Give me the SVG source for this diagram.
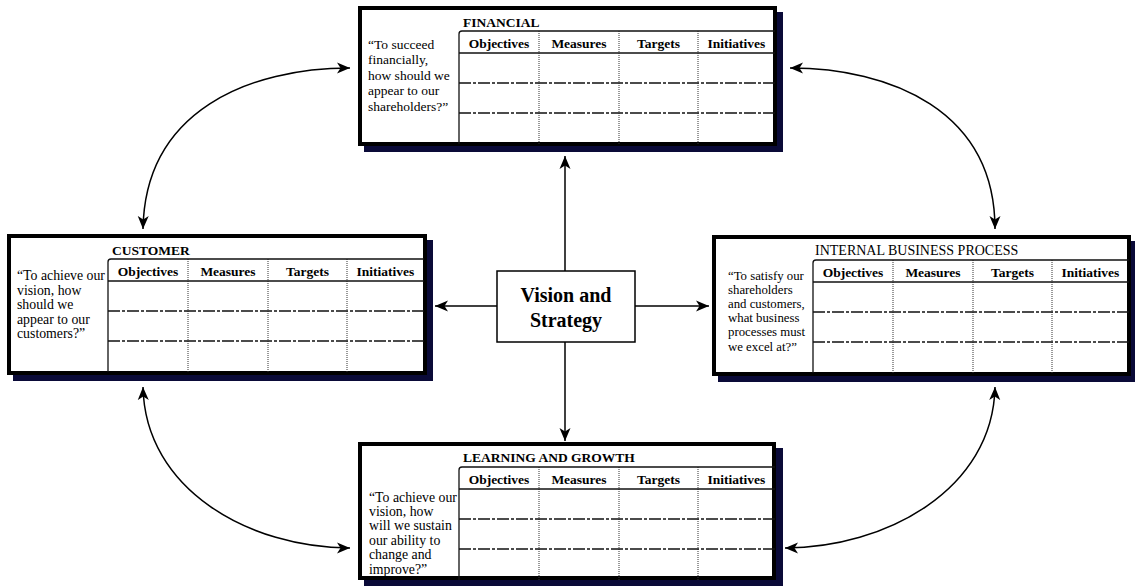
<svg xmlns="http://www.w3.org/2000/svg" width="1135" height="586" viewBox="0 0 1135 586">
<style>
.bg{fill:#fff}
.shadow{fill:#0a0a38}
.frame{fill:#fff;stroke:#000;stroke-width:4}
.tl{stroke:#111;stroke-width:1.3;fill:none}
.dash{stroke:#111;stroke-width:1.3;stroke-dasharray:12 2 3 2;fill:none}
.dot{stroke:#333;stroke-width:1;stroke-dasharray:1 1;fill:none}
.lbl{font-family:"Liberation Serif",serif;font-weight:bold;font-size:13.5px;fill:#000}
.lbln{font-family:"Liberation Serif",serif;font-size:14px;fill:#000}
.col{font-family:"Liberation Serif",serif;font-weight:bold;font-size:13.5px;text-anchor:middle;fill:#000}
.q{font-family:"Liberation Serif",serif;font-size:13.5px;fill:#000}
.qb{font-family:"Liberation Serif",serif;font-size:13.8px;fill:#000}
.qs{font-family:"Liberation Serif",serif;font-size:12.8px;fill:#000}
.vs{font-family:"Liberation Serif",serif;font-weight:bold;font-size:20px;text-anchor:middle;fill:#000}
.center{fill:#fff;stroke:#000;stroke-width:1.5}
.conn{fill:none;stroke:#000;stroke-width:1.5;marker-start:url(#ah);marker-end:url(#ah)}
.conn1{fill:none;stroke:#000;stroke-width:1.5;marker-end:url(#ah)}
</style>
<defs>
<marker id="ah" markerUnits="userSpaceOnUse" markerWidth="14" markerHeight="12" refX="13" refY="5.5" orient="auto-start-reverse" viewBox="0 0 14 11">
<path d="M0,0 L13,5.5 L0,11 L3.5,5.5 Z" fill="#000"/>
</marker>
<g id="table">
<line class="dot" x1="181" y1="25" x2="181" y2="138"/>
<line class="dot" x1="261" y1="25" x2="261" y2="138"/>
<line class="dot" x1="340" y1="25" x2="340" y2="138"/>
<path class="tl" d="M101,138 L101,28 Q101,25 104,25 L417,25"/>
<line class="tl" x1="101" y1="47" x2="417" y2="47"/>
<line class="dash" x1="101" y1="77" x2="417" y2="77"/>
<line class="dash" x1="101" y1="107" x2="417" y2="107"/>
<text class="col" x="141" y="42">Objectives</text>
<text class="col" x="221" y="42">Measures</text>
<text class="col" x="300.5" y="42">Targets</text>
<text class="col" x="378.5" y="42">Initiatives</text>
</g>
</defs>
<rect class="bg" x="0" y="0" width="1135" height="586"/>

<g id="connectors">
<line class="conn1" x1="565" y1="271" x2="565" y2="156"/>
<line class="conn1" x1="565" y1="342" x2="565" y2="441"/>
<line class="conn1" x1="497" y1="306" x2="435" y2="306"/>
<line class="conn1" x1="635" y1="306" x2="709" y2="306"/>
<path class="conn" d="M143,229 C145,110 250,68 350,68"/>
<path class="conn" d="M790,68 C890,68 995,110 995,229"/>
<path class="conn" d="M143,387 C145,490 250,548 350,548"/>
<path class="conn" d="M785,548 C885,548 993,490 995,387"/>
</g>

<g id="financial" transform="translate(358,6)">
<rect class="shadow" x="6" y="6" width="419" height="140"/>
<rect class="frame" x="2" y="2" width="415" height="136"/>
<use href="#table"/>
<text class="lbl" x="105" y="21">FINANCIAL</text>
<text class="q" x="10" y="42.5">“To succeed</text>
<text class="q" x="10" y="58">financially,</text>
<text class="q" x="10" y="73.5">how should we</text>
<text class="q" x="10" y="89">appear to our</text>
<text class="q" x="10" y="104.5">shareholders?”</text>
</g>

<g id="customer" transform="translate(7,234)">
<rect class="shadow" x="6" y="6" width="420" height="141"/>
<rect class="frame" x="2" y="2" width="416" height="137"/>
<use href="#table"/>
<text class="lbl" x="105" y="21">CUSTOMER</text>
<text class="qb" x="10" y="46">“To achieve our</text>
<text class="qb" x="10" y="60.6">vision, how</text>
<text class="qb" x="10" y="75.2">should we</text>
<text class="qb" x="10" y="89.8">appear to our</text>
<text class="qb" x="10" y="104.4">customers?”</text>
</g>

<g id="internal-business-process" transform="translate(712,235)">
<rect class="shadow" x="6" y="6" width="419" height="141"/>
<rect class="frame" x="2" y="2" width="415" height="137"/>
<use href="#table"/>
<text class="lbln" x="103" y="20">INTERNAL BUSINESS PROCESS</text>
<text class="qs" x="16" y="44.5">“To satisfy our</text>
<text class="qs" x="16" y="58.7">shareholders</text>
<text class="qs" x="16" y="72.9">and customers,</text>
<text class="qs" x="16" y="87.1">what business</text>
<text class="qs" x="16" y="101.3">processes must</text>
<text class="qs" x="16" y="115.5">we excel at?”</text>
</g>

<g id="learning-and-growth" transform="translate(358,442)">
<rect class="shadow" x="6" y="6" width="419" height="138"/>
<rect class="frame" x="2" y="2" width="414" height="134"/>
<use href="#table"/>
<text class="lbl" x="105" y="20">LEARNING AND GROWTH</text>
<text class="qb" x="11" y="59.5">“To achieve our</text>
<text class="qb" x="11" y="73.9">vision, how</text>
<text class="qb" x="11" y="88.3">will we sustain</text>
<text class="qb" x="11" y="102.7">our ability to</text>
<text class="qb" x="11" y="117.1">change and</text>
<text class="qb" x="11" y="131.5">improve?”</text>
</g>

<g id="vision-and-strategy">
<rect class="center" x="497" y="271" width="138" height="71"/>
<text class="vs" x="566" y="302">Vision and</text>
<text class="vs" x="566" y="327">Strategy</text>
</g>
</svg>
